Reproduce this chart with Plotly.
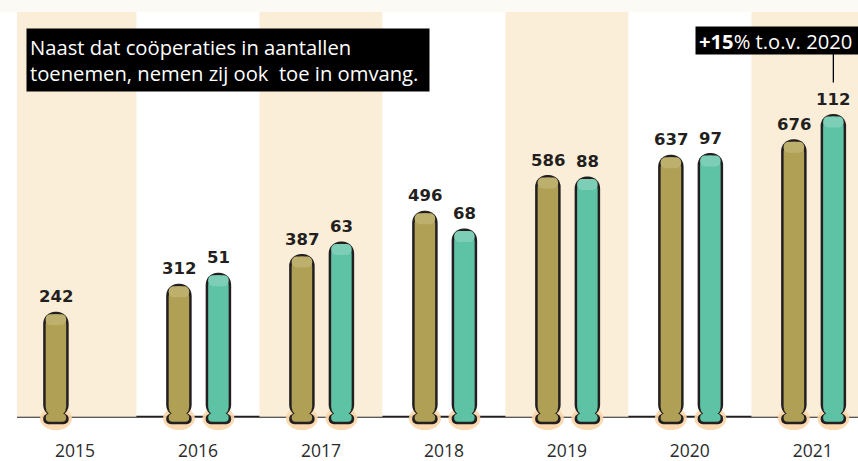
import plotly.graph_objects as go

# ---------------- data ----------------
years = [2015, 2016, 2017, 2018, 2019, 2020, 2021]
coop_counts = [242, 312, 387, 496, 586, 637, 676]
size_years = [2016, 2017, 2018, 2019, 2020, 2021]
size_values = [51, 63, 68, 88, 97, 112]
year_labels = ["2015", "2016", "2017", "2018", "2019", "2020", "2021"]
band_years = [2015, 2017, 2019, 2021]
intro_text = "Naast dat coöperaties in aantallen<br>toenemen, nemen zij ook  toe in omvang."
compare_year = 2020

# ---------------- style / geometry ----------------
W, H = 858, 461
M_L, M_R, M_T, M_B = 17, 0, 12, 21
PW = W - M_L - M_R
PH = H - M_T - M_B
X_RANGE = [2014.529, 2021.367]
Y1_RANGE = [-75, 1003]
Y2_RANGE = [-12.4, 152.2]
BASELINE_PX = 404.7          # px below plot top

OLIVE = "#b0a055"
OLIVE_LIGHT = "#bdb06d"
TEAL = "#5ec2a5"
TEAL_LIGHT = "#7ccfb6"
DARK = "#231f20"
BAND = "#fbeed9"
GLOW = "#fbd6a9"
TOPSTRIP = "#fcfaf5"

FONT_TXT = "Open Sans"
FONT_NUM = "DejaVu Sans"


def xu(px):
    return px * (X_RANGE[1] - X_RANGE[0]) / PW


def yu(px, rng):
    return px * (rng[1] - rng[0]) / PH


def base_val(rng):
    return rng[1] - yu(BASELINE_PX, rng)


OUTER_W = xu(25.5)
INNER_W = xu(20.5)
OFF_OLIVE = xu(-19)
OFF_TEAL = xu(20.5)
OUTLINE = 2.5
STUB_OUT = 7.6
STUB_IN = 5.1
OVERLAP = 3
HL = 11

fig = go.Figure()


def add_series(xs, vals, off, rng, yaxis, fill, light):
    b = base_val(rng)
    t = yu(OUTLINE, rng)
    ov = yu(OVERLAP, rng)
    n = len(xs)
    common = dict(x=xs, yaxis=yaxis, hoverinfo="skip", showlegend=False)
    # dark outer body (rounded top)
    fig.add_bar(**common, base=b, y=[v + t - b for v in vals],
                width=OUTER_W, offset=off - OUTER_W / 2,
                marker=dict(color=DARK, cornerradius="50%", line=dict(width=0)))
    # dark outer foot (rounded bottom)
    fig.add_bar(**common, base=b + ov, y=[-(ov + yu(STUB_OUT, rng))] * n,
                width=OUTER_W, offset=off - OUTER_W / 2,
                marker=dict(color=DARK, cornerradius=8, line=dict(width=0)))
    # inner fill body
    fig.add_bar(**common, base=b, y=[v - b for v in vals],
                width=INNER_W, offset=off - INNER_W / 2,
                marker=dict(color=fill, cornerradius="50%", line=dict(width=0)))
    # inner fill foot
    fig.add_bar(**common, base=b + ov, y=[-(ov + yu(STUB_IN, rng))] * n,
                width=INNER_W, offset=off - INNER_W / 2,
                marker=dict(color=fill, cornerradius=5.5, line=dict(width=0)))
    # highlight cap
    fig.add_bar(**common, base=[v - yu(HL, rng) for v in vals], y=[yu(HL, rng)] * n,
                width=INNER_W, offset=off - INNER_W / 2,
                marker=dict(color=light, cornerradius="50%", line=dict(width=0)))


add_series(years, coop_counts, OFF_OLIVE, Y1_RANGE, "y", OLIVE, OLIVE_LIGHT)
add_series(size_years, size_values, OFF_TEAL, Y2_RANGE, "y2", TEAL, TEAL_LIGHT)

shapes = []
# top cream strip
shapes.append(dict(type="rect", xref="paper", yref="paper", x0=-M_L / PW, x1=1.0,
                   y0=1.0, y1=1.0 + M_T / PH + 0.01, fillcolor=TOPSTRIP,
                   line=dict(width=0), layer="below"))
# alternating bands
for yr in band_years:
    shapes.append(dict(type="rect", xref="x", yref="y", x0=yr - 0.5, x1=yr + 0.5,
                       y0=base_val(Y1_RANGE), y1=Y1_RANGE[1], fillcolor=BAND,
                       line=dict(width=0), layer="below"))
# glows under bar feet
for xs, off in ((years, OFF_OLIVE), (size_years, OFF_TEAL)):
    for yr in xs:
        shapes.append(dict(type="circle", xref="x", yref="y",
                           xsizemode="pixel", ysizemode="pixel",
                           xanchor=yr + off, yanchor=base_val(Y1_RANGE),
                           x0=-16, x1=16, y0=-13.3, y1=9.7,
                           fillcolor=GLOW, opacity=0.9, line=dict(width=0),
                           layer="below"))
# baseline
shapes.append(dict(type="line", xref="paper", yref="y", x0=0, x1=1,
                   y0=base_val(Y1_RANGE), y1=base_val(Y1_RANGE),
                   line=dict(color=DARK, width=2), layer="below"))

annotations = []
num_font = dict(family=FONT_NUM, size=16.5, color=DARK, weight="bold")
for yr, v in zip(years, coop_counts):
    annotations.append(dict(x=yr + OFF_OLIVE, y=v, xref="x", yref="y", text=str(v),
                            showarrow=False, yanchor="bottom", yshift=6, font=num_font))
for yr, v in zip(size_years, size_values):
    annotations.append(dict(x=yr + OFF_TEAL, y=v, xref="x", yref="y2", text=str(v),
                            showarrow=False, yanchor="bottom", yshift=6, font=num_font))

# intro text box
annotations.append(dict(xref="paper", yref="paper", x=(26 - M_L) / PW, y=(PH + M_T - 28) / PH,
                        xanchor="left", yanchor="top", text=intro_text, showarrow=False,
                        align="left", bgcolor="#000000", borderpad=3, width=396, height=56,
                        font=dict(family=FONT_TXT, size=20.2, color="#ffffff")))

# growth callout
pct = round((size_values[-1] / size_values[size_years.index(compare_year)] - 1) * 100)
last_x = size_years[-1] + OFF_TEAL
annotations.append(dict(x=last_x, y=size_values[-1], xref="x", yref="y2", text=" ",
                        showarrow=True, arrowhead=0, arrowwidth=1.3, arrowcolor="#000000",
                        ax=0, ay=-70, standoff=34, font=dict(size=2)))
annotations.append(dict(xref="paper", yref="paper", x=(695 - M_L) / PW, y=(PH + M_T - 55) / PH,
                        xanchor="left", yanchor="bottom",
                        text=f"<b>+{pct}</b>% t.o.v. {compare_year}", showarrow=False,
                        align="left", bgcolor="#000000", borderpad=3, width=176, height=21,
                        font=dict(family=FONT_TXT, size=20.2, color="#ffffff")))

fig.update_layout(
    width=W, height=H,
    margin=dict(l=M_L, r=M_R, t=M_T, b=M_B, pad=0, autoexpand=False),
    paper_bgcolor="#ffffff", plot_bgcolor="rgba(0,0,0,0)",
    barmode="overlay", showlegend=False,
    shapes=shapes, annotations=annotations,
    xaxis=dict(range=X_RANGE, tickmode="array", tickvals=years, ticktext=year_labels,
               showgrid=False, zeroline=False, showline=False, ticks="",
               ticklabelstandoff=-2, automargin=False,
               tickfont=dict(family=FONT_TXT, size=17.5, color="#2b2b2b"), fixedrange=True),
    yaxis=dict(range=Y1_RANGE, visible=False, showgrid=False, zeroline=False,
               automargin=False, fixedrange=True),
    yaxis2=dict(range=Y2_RANGE, overlaying="y", visible=False, showgrid=False,
                zeroline=False, automargin=False, fixedrange=True),
)

fig.write_html("out.html", config={"displayModeBar": False},
               post_script="document.body.style.margin='0';")
